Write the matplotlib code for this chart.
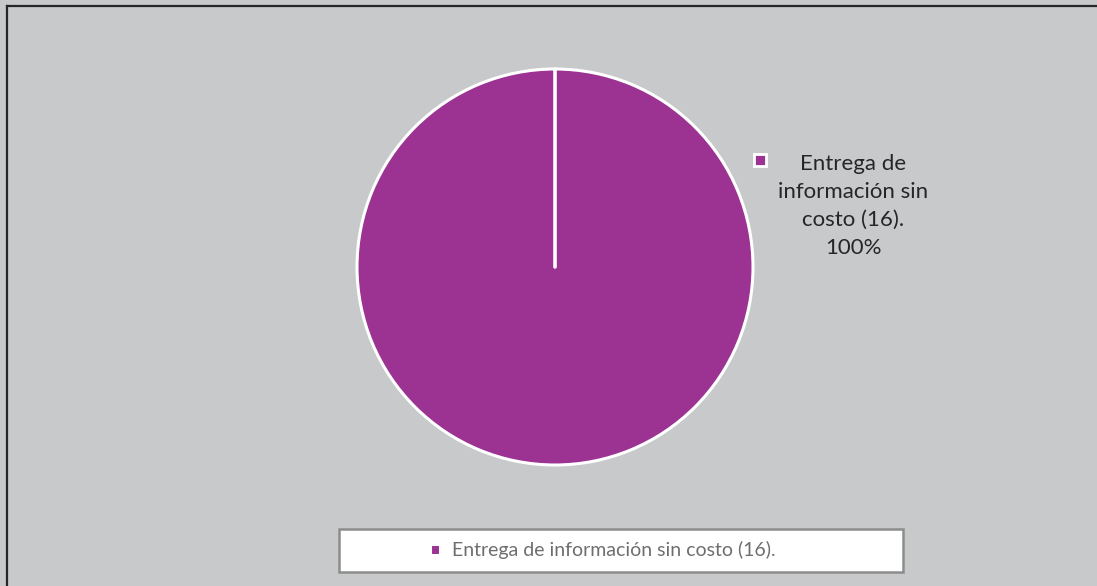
import matplotlib.pyplot as plt
from matplotlib.patches import Rectangle
from matplotlib.lines import Line2D

categories = ["Entrega de información sin costo (16)."]
values = [16]
label_text = ["Entrega de\ninformación sin\ncosto (16).\n100%"]

W, H = 1097, 586
bg = "#C8C9CB"
purple = "#9C3393"

plt.rcParams['font.family'] = ['Lato', 'DejaVu Sans']

fig = plt.figure(figsize=(W / 100, H / 100), dpi=100)
fig.patch.set_facecolor(bg)

# outer frame (only top and left edges visible)
fig.add_artist(Line2D([6.5 / W, 6.5 / W], [0, 1 - 5.5 / H], transform=fig.transFigure,
                      color="#262626", lw=1.6))
fig.add_artist(Line2D([6.5 / W, 1], [1 - 5.5 / H, 1 - 5.5 / H], transform=fig.transFigure,
                      color="#262626", lw=1.6))

# pie
cx, cy, r = 555, 267, 198
ax = fig.add_axes([(cx - r) / W, (H - cy - r) / H, 2 * r / W, 2 * r / H])
wedges, _ = ax.pie(values, colors=[purple], startangle=90, counterclock=False,
                   wedgeprops=dict(edgecolor="white", linewidth=2.2))
for w in wedges:
    w.set_clip_on(False)
ax.plot([0, 0], [0, 1], color="white", lw=2.6, solid_capstyle="round", clip_on=False)
ax.set_xlim(-1, 1)
ax.set_ylim(-1, 1)
ax.set_axis_off()

# data label with square marker
fig.text(853 / W, 1 - 206 / H, label_text[0], ha="center", va="center",
         fontsize=16, color="#262626", linespacing=1.52)
fig.add_artist(Rectangle(((760 - 6) / W, 1 - (160 + 6) / H), 12 / W, 12 / H,
                         transform=fig.transFigure, facecolor=purple,
                         edgecolor="white", lw=2))

# legend box
fig.add_artist(Rectangle((339 / W, 1 - 572 / H), (903 - 339) / W, (572 - 529) / H,
                         transform=fig.transFigure, facecolor="white",
                         edgecolor="#8C8C8C", lw=1.8))
leg = fig.legend(wedges, categories, loc="center", bbox_to_anchor=(603 / W, 1 - 550 / H),
                 frameon=False, fontsize=14, handlelength=0.5, handleheight=0.5,
                 handletextpad=0.6, labelcolor="#6E6E6E")

fig.savefig("out.png", dpi=100, facecolor=bg)
